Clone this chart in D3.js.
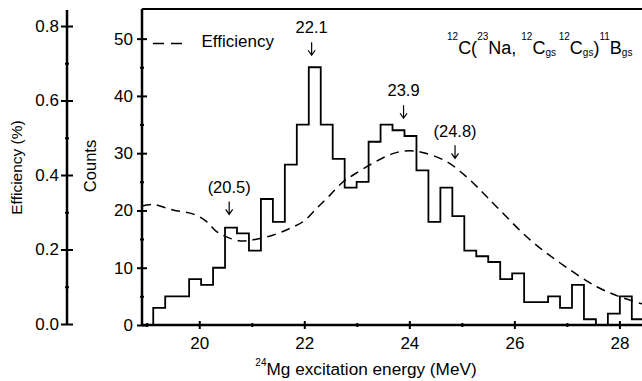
<!DOCTYPE html>
<html>
<head>
<meta charset="utf-8">
<script src="https://cdn.jsdelivr.net/npm/d3@7"></script>
<style>
  body { margin: 0; background: #fff; }
  svg { display: block; }
  text { font-family: "Liberation Sans", Arial, Helvetica, sans-serif; fill: #000; }
</style>
</head>
<body>
<div id="chart"></div>
<script>
// histogram: counts per energy bin (MeV), bins are equally wide
const binStart = 19.124;
const binWidth = 0.2278;
const counts = [3, 5, 5, 8, 7, 10, 17, 16, 13, 22, 18, 28, 35, 45, 35, 29, 24, 25, 32, 35,
                34, 33, 27, 18, 24, 19, 13, 12, 11, 8, 9, 4, 4, 5, 3, 7, 1, 0, 2, 5, 1];

// efficiency curve
const effEnergy = [18.91, 19.12, 19.50, 19.89, 20.14, 20.33, 20.52, 20.78, 21.03, 21.41,
                   21.73, 21.98, 22.24, 22.49, 22.74, 22.93, 23.31, 23.70, 24.01, 24.27,
                   24.71, 25.09, 25.41, 25.66, 26.30, 26.93, 27.57, 28.01, 28.43];
const effValue = [0.317, 0.321, 0.306, 0.295, 0.275, 0.248, 0.234, 0.223, 0.226, 0.239,
                  0.257, 0.275, 0.311, 0.346, 0.382, 0.400, 0.432, 0.458, 0.465, 0.460,
                  0.436, 0.395, 0.351, 0.315, 0.226, 0.158, 0.100, 0.073, 0.054];

const countTicks = [0, 10, 20, 30, 40, 50];
const countMinor = [5, 15, 25, 35, 45];
const effTicks = [0, 0.2, 0.4, 0.6, 0.8];
const effMinor = [0.1, 0.3, 0.5, 0.7];
const energyTicks = [20, 22, 24, 26, 28];
const energyMinor = [19, 21, 23, 25, 27];

// peak markers
const peakLabels = ["(20.5)", "22.1", "23.9", "(24.8)"];
const peakEnergy = [20.57, 22.14, 23.89, 24.87];
const peakTip = [19.3, 47.1, 36.1, 29.1];   // counts where the arrow points
const peakText = [23.0, 51.0, 39.9, 32.9];  // counts at label baseline

const width = 642, height = 381;
const plot = { left: 142, right: 642, top: 9, bottom: 325 };
const effAxisX = 67;

const svg = d3.select('#chart').append('svg')
    .attr('width', width)
    .attr('height', height);

const x = d3.scaleLinear().domain([18.91, 28.43]).range([plot.left, plot.right]);
const yC = d3.scaleLinear().domain([0, 55]).range([plot.bottom, 10]);
const yE = d3.scaleLinear().domain([0, 0.843]).range([324, 10]);

// ticks on both sides of an axis line, labels on one
function twoSided(g, sideA, sideB, scale, major, minor, size, fmt, pad) {
    g.call(sideA(scale).tickValues(major).tickSize(size).tickPadding(pad).tickFormat(fmt));
    g.append('g').call(sideB(scale).tickValues(major).tickSize(size).tickFormat(''));
    g.append('g').call(sideA(scale).tickValues(minor).tickSize(2).tickFormat(''));
    g.append('g').call(sideB(scale).tickValues(minor).tickSize(2).tickFormat(''));
    g.selectAll('.domain').remove();
    g.selectAll('line').attr('stroke', '#000').attr('stroke-width', 2);
    g.selectAll('text').style('font-size', '17px').attr('fill', '#000');
}

// efficiency axis (outer left)
const effG = svg.append('g').attr('transform', `translate(${effAxisX},0)`);
twoSided(effG, d3.axisLeft, d3.axisRight, yE, effTicks, effMinor, 6, d3.format('.1f'), 2);
svg.append('line')
    .attr('x1', effAxisX).attr('x2', effAxisX)
    .attr('y1', yE.range()[1]).attr('y2', yE.range()[0] + 1)
    .attr('stroke', '#000').attr('stroke-width', 2.5);

// counts axis
const cG = svg.append('g').attr('transform', `translate(${plot.left},0)`);
twoSided(cG, d3.axisLeft, d3.axisRight, yC, countTicks, countMinor, 5, d3.format('d'), 4);

// energy axis
const xG = svg.append('g').attr('transform', `translate(0,${plot.bottom})`);
twoSided(xG, d3.axisBottom, d3.axisTop, x, energyTicks, energyMinor, 4, d3.format('d'), 8);

// frame lines
svg.append('line')
    .attr('x1', plot.left).attr('x2', plot.left)
    .attr('y1', plot.top).attr('y2', plot.bottom + 1)
    .attr('stroke', '#000').attr('stroke-width', 2.5);
svg.append('line')
    .attr('x1', plot.left).attr('x2', plot.right)
    .attr('y1', plot.bottom).attr('y2', plot.bottom)
    .attr('stroke', '#000').attr('stroke-width', 2.5);
svg.append('line')
    .attr('x1', plot.left).attr('x2', plot.right)
    .attr('y1', plot.top).attr('y2', plot.top)
    .attr('stroke', '#000').attr('stroke-width', 2);

svg.append('clipPath').attr('id', 'plotclip')
    .append('rect')
    .attr('x', plot.left).attr('y', plot.top)
    .attr('width', plot.right - plot.left).attr('height', plot.bottom - plot.top);

const area = svg.append('g').attr('clip-path', 'url(#plotclip)');

// histogram as one step line
const steps = [[binStart, 0]];
counts.forEach((c, i) => steps.push([binStart + i * binWidth, c]));
const binEnd = binStart + counts.length * binWidth;
steps.push([binEnd, counts[counts.length - 1]]);
steps.push([binEnd, 0]);

area.append('path')
    .datum(steps)
    .attr('fill', 'none')
    .attr('stroke', '#000')
    .attr('stroke-width', 1.8)
    .attr('d', d3.line().x(d => x(d[0])).y(d => yC(d[1])).curve(d3.curveStepAfter));

// dashed efficiency curve
const effPts = effEnergy.map((e, i) => [e, effValue[i]]);
area.append('path')
    .datum(effPts)
    .attr('fill', 'none')
    .attr('stroke', '#000')
    .attr('stroke-width', 1.5)
    .attr('stroke-dasharray', '9,6')
    .attr('d', d3.line().x(d => x(d[0])).y(d => yE(d[1])).curve(d3.curveCatmullRom));

// peak arrows and labels
peakLabels.forEach((lab, i) => {
    const px = x(peakEnergy[i]);
    const tip = yC(peakTip[i]);
    svg.append('path')
        .attr('d', `M${px},${tip - 13}V${tip}M${px - 3.5},${tip - 5}L${px},${tip}L${px + 3.5},${tip - 5}`)
        .attr('fill', 'none')
        .attr('stroke', '#000')
        .attr('stroke-width', 1.2);
    svg.append('text')
        .attr('x', px)
        .attr('y', yC(peakText[i]))
        .attr('text-anchor', 'middle')
        .style('font-size', '16.5px')
        .text(lab);
});

// legend
svg.append('line')
    .attr('x1', 153).attr('x2', 184)
    .attr('y1', 43.5).attr('y2', 43.5)
    .attr('stroke', '#000')
    .attr('stroke-width', 1.5)
    .attr('stroke-dasharray', '11,7');
svg.append('text')
    .attr('x', 201.5).attr('y', 47)
    .style('font-size', '17px')
    .text('Efficiency');

// reaction label
const title = svg.append('text')
    .attr('x', 447).attr('y', 54)
    .style('font-size', '18px');
const sup = (t, dy) => title.append('tspan').attr('dy', dy).style('font-size', '10px').text(t);
const main = (t, dy) => title.append('tspan').attr('dy', dy).text(t);
sup('12', -14); main('C(', 14);
sup('23', -14); main('Na, ', 14);
sup('12', -14); main('C', 14); sup('gs ', 2);
sup('12', -16); main('C', 14); sup('gs', 2);
main(')', -2);
sup('11', -14); main('B', 14); sup('gs', 2);

// axis titles
const xt = svg.append('text')
    .attr('x', 366).attr('y', 375)
    .attr('text-anchor', 'middle')
    .style('font-size', '17.2px');
xt.append('tspan').attr('dy', -9).style('font-size', '10px').text('24');
xt.append('tspan').attr('dy', 9).text('Mg excitation energy (MeV)');

svg.append('text')
    .attr('transform', 'translate(96,166) rotate(-90)')
    .attr('text-anchor', 'middle')
    .style('font-size', '16.5px')
    .text('Counts');

svg.append('text')
    .attr('transform', 'translate(21.5,167.5) rotate(-90)')
    .attr('text-anchor', 'middle')
    .style('font-size', '15.5px')
    .text('Efficiency (%)');
</script>
</body>
</html>
